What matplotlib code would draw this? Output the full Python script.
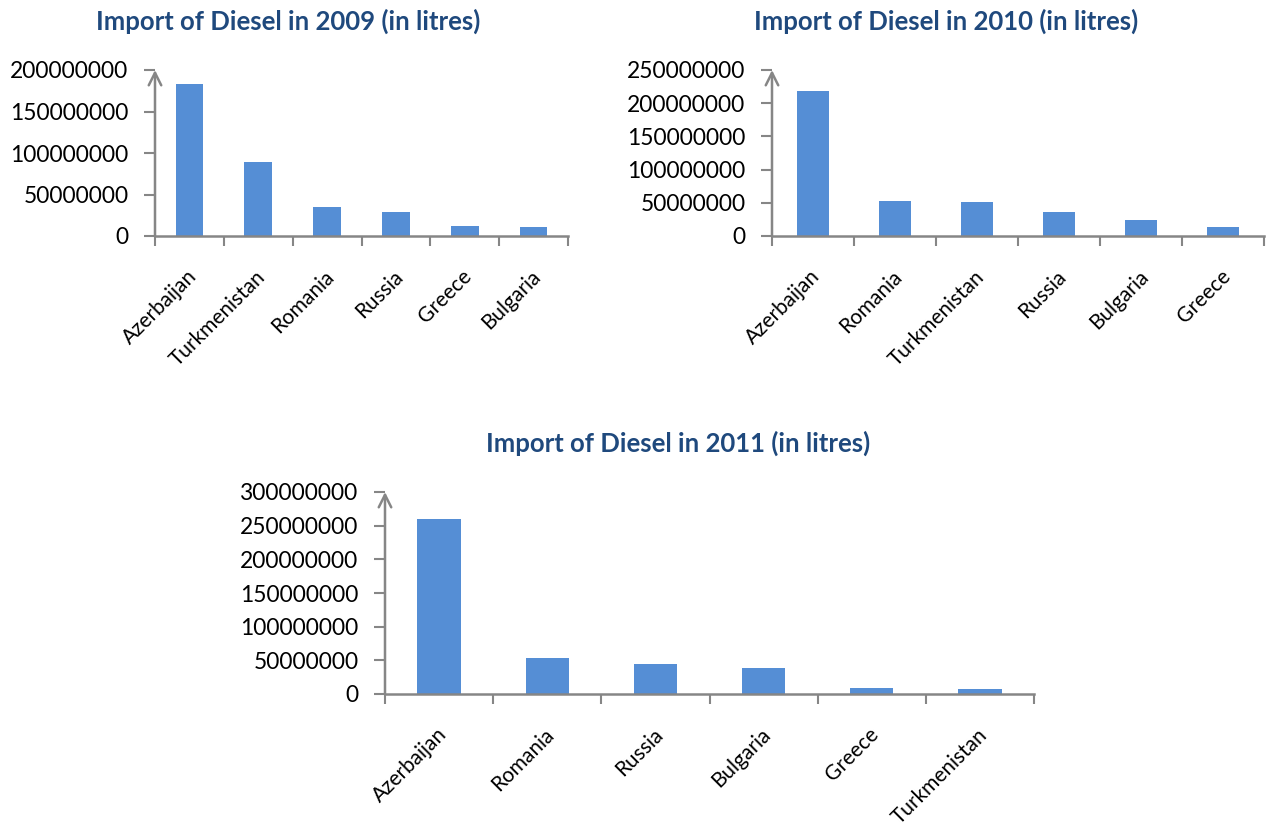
import matplotlib
matplotlib.use("Agg")
import matplotlib.pyplot as plt

plt.rcParams['font.family'] = ['Lato', 'DejaVu Sans']

# Diesel imports (litres) by country
countries_2009 = ["Azerbaijan", "Turkmenistan", "Romania", "Russia", "Greece", "Bulgaria"]
values_2009 = [182.7e6, 89.5e6, 34.6e6, 29.4e6, 12.1e6, 10.9e6]

countries_2010 = ["Azerbaijan", "Romania", "Turkmenistan", "Russia", "Bulgaria", "Greece"]
values_2010 = [217.8e6, 52.9e6, 50.8e6, 35.7e6, 24.7e6, 13.6e6]

countries_2011 = ["Azerbaijan", "Romania", "Russia", "Bulgaria", "Greece", "Turkmenistan"]
values_2011 = [259.7e6, 54.2e6, 45.2e6, 38.3e6, 9.5e6, 7.5e6]

titles = ["Import of Diesel in 2009 (in litres)",
          "Import of Diesel in 2010 (in litres)",
          "Import of Diesel in 2011 (in litres)"]
ymax = [200e6, 250e6, 300e6]
ystep = 50e6

W, H = 1270, 827
BAR = "#558ED5"
AXIS = "#868686"
TITLE = "#1F497D"

fig = plt.figure(figsize=(W / 100, H / 100), dpi=100)

# pixel boxes (left, right, top, bottom) and title centres (x, y)
boxes = [(155, 568, 70, 236), (772, 1264, 70, 236), (385, 1034, 492, 694)]
title_pos = [(288, 21), (946, 21), (678, 443)]
data = [(countries_2009, values_2009), (countries_2010, values_2010),
        (countries_2011, values_2011)]

for (l, r, t, b), (tx, ty), (cats, vals), title, ym in zip(boxes, title_pos, data, titles, ymax):
    ax = fig.add_axes([l / W, 1 - b / H, (r - l) / W, (b - t) / H])
    n = len(cats)
    xs = range(n)
    ax.bar(xs, vals, width=0.4, color=BAR, edgecolor="none", zorder=2)
    ax.set_xlim(-0.5, n - 0.5)
    ax.set_ylim(0, ym)

    ticks = [i * ystep for i in range(int(ym / ystep) + 1)]
    ax.set_yticks(ticks)
    ax.set_yticklabels([f"{int(v)}" for v in ticks], fontsize=16.4, color="black")
    ax.tick_params(axis="y", length=8, width=1.5, color=AXIS, pad=11)

    # category boundaries carry the tick marks
    ax.set_xticks([i - 0.5 for i in range(n + 1)])
    ax.set_xticklabels([])
    ax.tick_params(axis="x", length=7, width=1.5, color=AXIS)
    for i, c in enumerate(cats):
        ax.annotate(c, xy=(i, 0), xycoords=("data", "axes fraction"),
                    xytext=(3, -27), textcoords="offset points",
                    rotation=45, ha="right", va="center", rotation_mode="anchor",
                    fontsize=15, color="black", annotation_clip=False)

    for s in ["top", "right", "left"]:
        ax.spines[s].set_visible(False)
    ax.spines["bottom"].set_color(AXIS)
    ax.spines["bottom"].set_linewidth(1.8)

    # value axis with an open arrow head
    ax.annotate("", xy=(-0.5, ym), xytext=(-0.5, 0), xycoords="data",
                arrowprops=dict(arrowstyle="->,head_length=0.9,head_width=0.45",
                                color=AXIS, lw=1.8, shrinkA=0, shrinkB=0),
                annotation_clip=False)

    fig.text(tx / W, 1 - ty / H, title, fontsize=18.5, fontweight="bold",
             color=TITLE, ha="center", va="center")

fig.savefig("out.png", dpi=100)
